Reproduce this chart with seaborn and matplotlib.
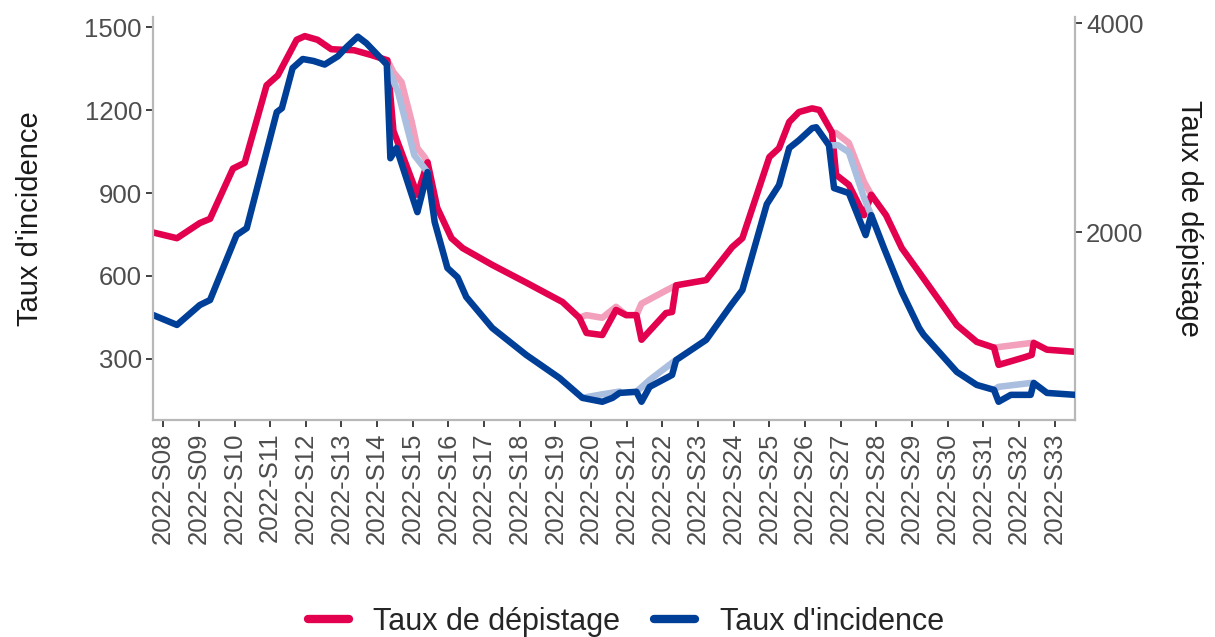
import matplotlib
matplotlib.use("Agg")
import matplotlib.pyplot as plt
from matplotlib.lines import Line2D
import numpy as np
import pandas as pd
import seaborn as sns

# ---------------- data ----------------
week_labels = [f"2022-S{w:02d}" for w in range(8, 34)]
week_days = [7 * i for i in range(len(week_labels))]   # day 0 = S08 tick

# Taux de dépistage (right axis), main series
dep_days = [-2.0, 2.7, 7.2, 9.2, 13.7, 16.0, 20.3, 22.5, 26.2, 27.8, 30.3, 33.0,
            37.5, 40.8, 44.0, 45.2, 49.9, 51.9, 53.8, 56.6, 58.8, 64.6, 71.3,
            78.4, 81.7, 83.1, 86.2, 88.9, 90.9, 92.9, 93.9, 98.7, 99.9, 100.7,
            106.6, 111.7, 113.7, 119.0, 120.9, 122.9, 124.8, 127.4, 128.8, 131.3,
            132.1, 134.6, 137.6, 139.0, 141.9, 145.0, 148.4, 155.8, 159.7, 163.1,
            164.0, 168.9, 170.5, 170.9, 173.5, 179.0]
dep_vals = [2000, 1945, 2090, 2130, 2610, 2665, 3405, 3500, 3840, 3875, 3840, 3750,
            3740, 3695, 3645, 2970, 2360, 2670, 2235, 1945, 1850, 1690, 1520,
            1335, 1185, 1040, 1020, 1260, 1210, 1210, 975, 1230, 1240, 1495,
            1545, 1860, 1945, 2720, 2805, 3055, 3150, 3185, 3170, 2955,
            2550, 2455, 2165, 2360, 2165, 1850, 1620, 1115, 955, 900,
            735, 805, 830, 945, 880, 860]

# Taux de dépistage, non-consolidated (light) segments
dep_light_seg = [1, 1, 1, 1, 1, 1, 1, 2, 2, 2, 2, 2, 3, 3, 3, 3, 4, 4, 4, 4, 4, 5, 5, 5, 5]
dep_light_days = [44.0, 45.2, 46.8, 48.8, 49.9, 51.3, 51.9,
                  81.7, 83.1, 86.2, 88.9, 90.9,
                  92.9, 93.9, 98.7, 100.7,
                  131.3, 132.1, 134.6, 137.6, 139.0,
                  163.1, 164.0, 170.5, 170.9]
dep_light_vals = [3645, 3530, 3435, 3055, 2805, 2720, 2670,
                  1185, 1210, 1185, 1290, 1210,
                  1210, 1320, 1445, 1495,
                  2955, 2950, 2855, 2480, 2360,
                  900, 905, 945, 945]

# Taux d'incidence (left axis), main series
inc_days = [-2.0, 2.7, 7.2, 9.2, 14.4, 16.4, 22.3, 23.3, 25.4, 27.4, 29.5, 31.7,
            34.3, 36.0, 38.2, 39.9, 43.9, 44.6, 45.8, 49.9, 51.9, 53.3, 55.8,
            57.8, 59.5, 64.6, 71.3, 77.8, 82.3, 86.2, 88.2, 89.6, 92.9, 93.9,
            95.5, 99.9, 100.7, 106.6, 111.5, 113.7, 118.5, 120.9, 122.9, 124.8,
            127.4, 128.2, 130.7, 131.7, 134.6, 137.9, 139.0, 141.5, 145.0, 148.4,
            149.3, 155.8, 159.7, 163.1, 164.0, 166.4, 170.3, 170.9, 173.5, 179.0]
inc_vals = [459, 423, 495, 513, 748, 773, 1193, 1207, 1352, 1385, 1378, 1365,
            1395, 1428, 1466, 1442, 1365, 1026, 1063, 831, 976, 795, 629,
            595, 524, 412, 314, 231, 159, 145, 159, 177, 181, 145,
            199, 242, 296, 369, 495, 549, 860, 929, 1063, 1091,
            1135, 1138, 1073, 918, 900, 748, 820, 701, 542, 412,
            387, 253, 206, 188, 145, 170, 170, 213, 177, 170]

# Taux d'incidence, non-consolidated (light) segments
inc_light_seg = [1, 1, 1, 1, 2, 2, 2, 3, 3, 3, 3, 4, 4, 4, 4, 4, 5, 5, 5, 5]
inc_light_days = [43.9, 46.1, 49.3, 51.9,
                  82.3, 86.2, 89.6,
                  92.9, 95.5, 99.9, 100.7,
                  130.7, 132.5, 134.6, 137.6, 139.0,
                  163.1, 164.0, 170.3, 170.9]
inc_light_vals = [1365, 1265, 1037, 976,
                  159, 172, 182,
                  181, 224, 286, 296,
                  1073, 1073, 1048, 882, 820,
                  188, 199, 213, 213]

inc_ticks = [300, 600, 900, 1200, 1500]
dep_ticks = [2000, 4000]
SEC_FACTOR = 2.64  # dépistage = incidence * factor

# ---------------- styling ----------------
PINK = "#E2004F"
BLUE = "#003F98"
PINK_L = "#F2A0BC"
BLUE_L = "#AABEDF"
AXIS_GREY = "#B8B8B8"
TXT_GREY = "#4D4D4D"

sns.set_theme(style="white")
plt.rcParams["font.family"] = ["Liberation Sans", "DejaVu Sans"]

df_dep = pd.DataFrame({"day": dep_days, "val": dep_vals})
df_dep_l = pd.DataFrame({"day": dep_light_days, "val": dep_light_vals, "seg": dep_light_seg})
df_inc = pd.DataFrame({"day": inc_days, "val": inc_vals})
df_inc_l = pd.DataFrame({"day": inc_light_days, "val": inc_light_vals, "seg": inc_light_seg})

fig = plt.figure(figsize=(12.15, 6.37), dpi=100)
ax = fig.add_axes([153 / 1215, 1 - 420 / 637, (1075 - 153) / 1215, (420 - 17) / 637])
ax2 = ax.twinx()
ax.set_zorder(ax2.get_zorder() + 1)
ax.patch.set_visible(False)

LW = 4.7
sns.lineplot(data=df_dep_l, x="day", y="val", units="seg", estimator=None, sort=False,
             ax=ax2, color=PINK_L, lw=LW, legend=False)
sns.lineplot(data=df_dep, x="day", y="val", estimator=None, sort=False,
             ax=ax2, color=PINK, lw=LW, legend=False)
sns.lineplot(data=df_inc_l, x="day", y="val", units="seg", estimator=None, sort=False,
             ax=ax, color=BLUE_L, lw=LW, legend=False)
sns.lineplot(data=df_inc, x="day", y="val", estimator=None, sort=False,
             ax=ax, color=BLUE, lw=LW, legend=False)

ymin, ymax = 79, 1537
ax.set_ylim(ymin, ymax)
ax2.set_ylim(ymin * SEC_FACTOR, ymax * SEC_FACTOR)
ax.set_xlim(-2, 179)

ax.set_xticks(week_days)
ax.set_xticklabels(week_labels, rotation=90)
ax.set_yticks(inc_ticks)
ax.set_yticklabels([str(t) for t in inc_ticks])
ax2.set_yticks(dep_ticks)
ax2.set_yticklabels([str(t) for t in dep_ticks])

for a in (ax, ax2):
    a.tick_params(axis="both", which="major", length=5, width=1.3, color="#333333",
                  labelcolor=TXT_GREY, labelsize=18.5, pad=3, direction="out")
    for s in a.spines.values():
        s.set_visible(False)
ax.tick_params(axis="x", labelsize=18.5, pad=4)
ax.tick_params(axis="y", left=True)
ax.tick_params(axis="x", bottom=True)
ax2.tick_params(axis="y", right=True)
ax.spines["left"].set_visible(True)
ax.spines["bottom"].set_visible(True)
ax2.spines["right"].set_visible(True)
for s in (ax.spines["left"], ax.spines["bottom"], ax2.spines["right"]):
    s.set_color(AXIS_GREY)
    s.set_linewidth(1.6)

ax.set_xlabel("")
ax.set_ylabel("Taux d'incidence", fontsize=21, color="#1A1A1A")
ax2.set_ylabel("Taux de dépistage", fontsize=21, color="#1A1A1A", rotation=270, va="bottom")
ax.yaxis.set_label_coords(-0.118, 0.5)
ax2.yaxis.set_label_coords(1.109, 0.5)

handles = [Line2D([0], [0], color=PINK, lw=6), Line2D([0], [0], color=BLUE, lw=6)]
fig.legend(handles, ["Taux de dépistage", "Taux d'incidence"], loc="center",
           bbox_to_anchor=(0.515, 0.024), ncol=2, frameon=False, fontsize=22,
           handlelength=1.35, handletextpad=0.8, columnspacing=1.1)

fig.savefig("out.png", dpi=100)
